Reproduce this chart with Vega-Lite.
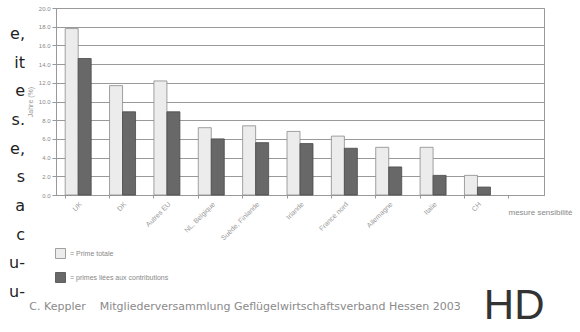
{
  "$schema": "https://vega.github.io/schema/vega-lite/v6.json",
  "padding": {"left": 0, "top": 4, "right": 0, "bottom": 0},
  "background": "white",
  "config": {"font": "Liberation Sans", "concat": {"spacing": 0}, "view": {"stroke": null}},
  "title": {"text": "HD", "orient": "bottom", "anchor": "end", "fontSize": 42, "fontWeight": "normal", "font": "Liberation Sans", "color": "#333", "offset": -26, "dx": -28},
  "hconcat": [
    {
      "width": 25,
      "height": 300,
      "view": {"stroke": null},
      "data": {"values": [
        {"i": 0, "t": "e,"}, {"i": 1, "t": "it"}, {"i": 2, "t": "e"}, {"i": 3, "t": "s."}, {"i": 4, "t": "e,"},
        {"i": 5, "t": "s"}, {"i": 6, "t": "a"}, {"i": 7, "t": "c"}, {"i": 8, "t": "u-"}, {"i": 9, "t": "u-"}
      ]},
      "mark": {"type": "text", "align": "right", "baseline": "middle", "fontSize": 16, "font": "DejaVu Sans", "color": "#222"},
      "encoding": {
        "x": {"value": "width"},
        "y": {"field": "i", "type": "quantitative", "scale": {"domain": [-0.907, 9.558], "reverse": true}, "axis": null},
        "text": {"field": "t"}
      }
    },
    {
      "width": 488,
      "height": 187,
      "view": {"stroke": "#999"},
      "title": {"text": "C. Keppler\u00a0\u00a0\u00a0\u00a0Mitgliederversammlung Geflügelwirtschaftsverband Hessen 2003", "orient": "bottom", "anchor": "start", "font": "DejaVu Sans", "fontSize": 11, "fontWeight": "normal", "color": "#8a8a8a", "offset": 60, "dx": 3},
      "data": {"values": [
        {"c": "UK", "s": "Prime totale", "v": 17.8},
        {"c": "UK", "s": "primes liées aux contributions", "v": 14.6},
        {"c": "DK", "s": "Prime totale", "v": 11.7},
        {"c": "DK", "s": "primes liées aux contributions", "v": 8.9},
        {"c": "Autres EU", "s": "Prime totale", "v": 12.2},
        {"c": "Autres EU", "s": "primes liées aux contributions", "v": 8.9},
        {"c": "NL, Belgique", "s": "Prime totale", "v": 7.2},
        {"c": "NL, Belgique", "s": "primes liées aux contributions", "v": 6.0},
        {"c": "Suède, Finlande", "s": "Prime totale", "v": 7.4},
        {"c": "Suède, Finlande", "s": "primes liées aux contributions", "v": 5.6},
        {"c": "Irlande", "s": "Prime totale", "v": 6.8},
        {"c": "Irlande", "s": "primes liées aux contributions", "v": 5.5},
        {"c": "France nord", "s": "Prime totale", "v": 6.3},
        {"c": "France nord", "s": "primes liées aux contributions", "v": 5.0},
        {"c": "Allemagne", "s": "Prime totale", "v": 5.1},
        {"c": "Allemagne", "s": "primes liées aux contributions", "v": 3.0},
        {"c": "Italie", "s": "Prime totale", "v": 5.1},
        {"c": "Italie", "s": "primes liées aux contributions", "v": 2.1},
        {"c": "CH", "s": "Prime totale", "v": 2.1},
        {"c": "CH", "s": "primes liées aux contributions", "v": 0.85}
      ]},
      "mark": {"type": "bar", "strokeWidth": 0.8},
      "encoding": {
        "x": {
          "field": "c", "type": "nominal", "sort": null,
          "scale": {"domain": ["UK", "DK", "Autres EU", "NL, Belgique", "Suède, Finlande", "Irlande", "France nord", "Allemagne", "Italie", "CH", " "], "paddingInner": 0.414, "paddingOuter": 0.207},
          "axis": {"labelAngle": -45, "labelFontSize": 7, "labelColor": "#999", "tickColor": "#999", "tickSize": 3, "bandPosition": 0, "domainColor": "#999",
                   "title": "mesure sensibilité", "titleAngle": 0, "titleFontSize": 8, "titleFontWeight": "normal", "titleColor": "#888", "titleX": 484, "titleY": 17, "titleAlign": "center", "titleBaseline": "middle"}
        },
        "xOffset": {"field": "s", "type": "nominal", "scale": {"domain": ["Prime totale", "primes liées aux contributions"], "paddingInner": 0, "paddingOuter": 0}},
        "y": {
          "field": "v", "type": "quantitative", "scale": {"domain": [0, 20]},
          "axis": {"values": [0, 2, 4, 6, 8, 10, 12, 14, 16, 18, 20], "format": ".1f", "grid": true, "gridColor": "#999", "labelFontSize": 6, "labelColor": "#888", "tickColor": "#999", "tickSize": 4, "domainColor": "#999",
                   "title": "Jahre (%)", "titleFontSize": 7, "titleFontWeight": "normal", "titleColor": "#999", "titlePadding": 5}
        },
        "fill": {
          "field": "s", "type": "nominal",
          "scale": {"domain": ["Prime totale", "primes liées aux contributions"], "range": ["#ececec", "#686868"]},
          "legend": {"orient": "none", "legendX": 55, "legendY": 240, "title": null, "symbolType": "square", "symbolSize": 100, "symbolStrokeColor": "#888", "symbolStrokeWidth": 0.8, "labelFontSize": 7, "labelColor": "#888", "rowPadding": 9, "labelExpr": "'= ' + datum.label"}
        },
        "stroke": {
          "field": "s", "type": "nominal",
          "scale": {"domain": ["Prime totale", "primes liées aux contributions"], "range": ["#8a8a8a", "#4a4a4a"]},
          "legend": null
        }
      }
    }
  ]
}
